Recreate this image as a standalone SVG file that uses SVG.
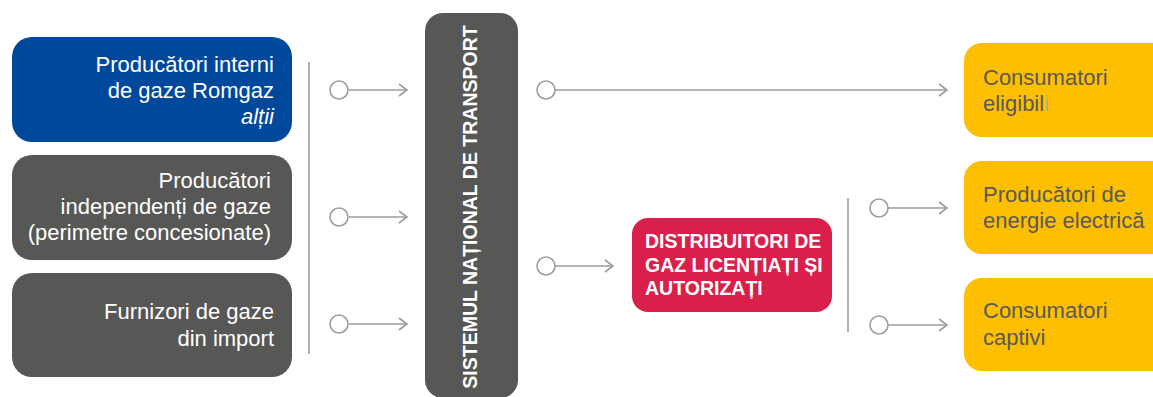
<svg xmlns="http://www.w3.org/2000/svg" width="1153" height="397" viewBox="0 0 1153 397">
<style>
.src{fill:#575756}
.t{font-family:"Liberation Sans",Arial,sans-serif;font-size:22px}
.w{fill:#ffffff}
.r{text-anchor:end}
.y{fill:#FDBF00}
.yt{fill:#5A5A5A}
.b{font-weight:bold;font-size:19.5px}
.ln{stroke:#9D9D9C;stroke-width:1.6;fill:none}
.c{fill:#ffffff;stroke:#9D9D9C;stroke-width:1.6}
</style>
<defs>
<marker id="ah" markerWidth="12" markerHeight="14" refX="10" refY="7" orient="auto" markerUnits="userSpaceOnUse">
<path d="M2,1 L10,7 L2,13" fill="none" stroke="#9D9D9C" stroke-width="1.6"/>
</marker>
</defs>
<g id="node-romgaz">
<rect x="12" y="37" width="280" height="105" rx="20" fill="#00489B"/>
<text class="t w r" x="274" y="72">Producători interni</text>
<text class="t w r" x="274" y="98">de gaze Romgaz</text>
<text class="t w r" x="274" y="124" font-style="italic">alții</text>
</g>
<g id="node-independenti">
<rect class="src" x="12" y="155" width="280" height="105" rx="20"/>
<text class="t w r" x="271" y="188">Producători</text>
<text class="t w r" x="271" y="214">independenți de gaze</text>
<text class="t w r" x="271" y="240">(perimetre concesionate)</text>
</g>
<g id="node-import">
<rect class="src" x="12" y="273" width="280" height="104" rx="20"/>
<text class="t w r" x="274" y="319">Furnizori de gaze</text>
<text class="t w r" x="274" y="346">din import</text>
</g>
<g id="node-snt">
<rect class="src" x="425" y="13" width="93" height="385" rx="18"/>
<text class="t w b" x="0" y="0" text-anchor="middle" transform="translate(477 207) rotate(-90)">SISTEMUL NAȚIONAL DE TRANSPORT</text>
</g>
<g id="node-distribuitori">
<rect x="632" y="218" width="200" height="94" rx="16" fill="#DA1F4B"/>
<text class="t w b" x="645" y="248">DISTRIBUITORI DE</text>
<text class="t w b" x="645" y="272">GAZ LICENȚIAȚI ȘI</text>
<text class="t w b" x="645" y="295">AUTORIZAȚI</text>
</g>
<g id="node-eligibili">
<rect class="y" x="964" y="43" width="220" height="94" rx="18"/>
<text class="t yt" x="983" y="85">Consumatori</text>
<text class="t yt" x="983" y="111">eligibil<tspan fill="#BFAE80">i</tspan></text>
</g>
<g id="node-energie">
<rect class="y" x="964" y="161" width="220" height="93" rx="18"/>
<text class="t yt" x="983" y="202">Producători de</text>
<text class="t yt" x="983" y="228">energie electrică</text>
</g>
<g id="node-captivi">
<rect class="y" x="964" y="278" width="220" height="93" rx="18"/>
<text class="t yt" x="983" y="318">Consumatori</text>
<text class="t yt" x="983" y="345">captivi</text>
</g>
<g id="connectors">
<line class="ln" x1="309" y1="62" x2="309" y2="354"/>
<line class="ln" x1="349" y1="90" x2="407" y2="90" marker-end="url(#ah)"/>
<circle class="c" cx="339" cy="90" r="9"/>
<line class="ln" x1="349" y1="217" x2="407" y2="217" marker-end="url(#ah)"/>
<circle class="c" cx="339" cy="217" r="9"/>
<line class="ln" x1="349" y1="324" x2="407" y2="324" marker-end="url(#ah)"/>
<circle class="c" cx="339" cy="324" r="9"/>
<line class="ln" x1="555" y1="90" x2="947" y2="90" marker-end="url(#ah)"/>
<circle class="c" cx="546" cy="90" r="9"/>
<line class="ln" x1="555" y1="266" x2="613" y2="266" marker-end="url(#ah)"/>
<circle class="c" cx="546" cy="266" r="9"/>
<line class="ln" x1="848" y1="198" x2="848" y2="332"/>
<line class="ln" x1="888" y1="208" x2="947" y2="208" marker-end="url(#ah)"/>
<circle class="c" cx="879" cy="208" r="9"/>
<line class="ln" x1="888" y1="325" x2="947" y2="325" marker-end="url(#ah)"/>
<circle class="c" cx="879" cy="325" r="9"/>
</g>
</svg>
